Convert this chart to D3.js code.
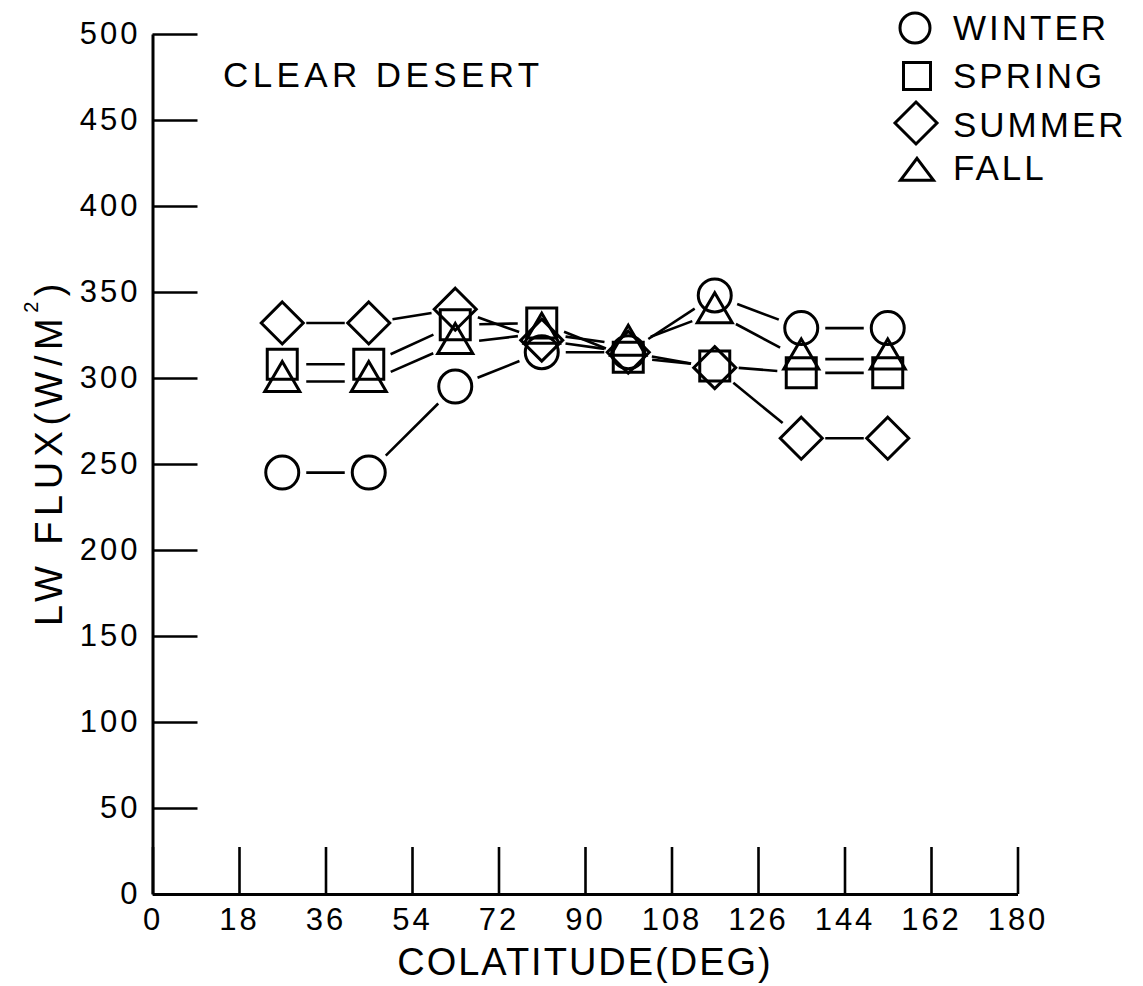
<!DOCTYPE html>
<html>
<head>
<meta charset="utf-8">
<script src="https://cdn.jsdelivr.net/npm/d3@7"></script>
<style>
  html, body { margin: 0; padding: 0; background: #fff; }
  svg { display: block; }
  text { font-family: "Liberation Sans", Arial, sans-serif; fill: #000; }
</style>
</head>
<body>
<svg id="chart" width="1143" height="986"></svg>
<script>
// Clear-desert longwave flux by colatitude band, one series per season
const colatitudes = [27, 45, 63, 81, 99, 117, 135, 153];
const winter = [245, 245, 295, 315, 315, 348, 329, 329];
const spring = [308, 308, 331, 332, 312, 307, 303, 303];
const summer = [332, 332, 340, 322, 315, 306, 265, 265];
const fall   = [298, 298, 320, 326, 319, 338, 311, 311];

const seasonNames = ["WINTER", "SPRING", "SUMMER", "FALL"];
const seasonShapes = ["circle", "square", "diamond", "triangle"];
const seasonValues = [winter, spring, summer, fall];

const xTicks = [0, 18, 36, 54, 72, 90, 108, 126, 144, 162, 180];
const yTicks = [0, 50, 100, 150, 200, 250, 300, 350, 400, 450, 500];

const svg = d3.select("#chart");

const x = d3.scaleLinear().domain([0, 180]).range([152.5, 1017.5]);
const y = d3.scaleLinear().domain([0, 500]).range([894, 34]);

// marker outlines, centred on the data point
function markerPath(shape, s) {
  const p = d3.path();
  if (shape === "circle") {
    p.arc(0, 0, s.r, 0, 2 * Math.PI);
  } else if (shape === "square") {
    p.rect(-s.h, -s.h, 2 * s.h, 2 * s.h);
  } else if (shape === "diamond") {
    p.moveTo(0, -s.d); p.lineTo(s.d, 0); p.lineTo(0, s.d); p.lineTo(-s.d, 0); p.closePath();
  } else {
    p.moveTo(0, -2 * s.th / 3); p.lineTo(s.tw / 2, s.th / 3); p.lineTo(-s.tw / 2, s.th / 3); p.closePath();
  }
  return p.toString();
}
const plotSize = { r: 16.5, h: 15, d: 21, tw: 35, th: 30 };
const legendSize = { r: 15, h: 13.5, d: 21, tw: 33, th: 22 };

// axes
const yAxis = d3.axisLeft(y).tickValues(yTicks).tickSizeInner(-45).tickSizeOuter(0).tickPadding(15);
const xAxis = d3.axisBottom(x).tickValues(xTicks).tickSizeInner(-47).tickSizeOuter(0).tickPadding(14);

const gy = svg.append("g").attr("transform", `translate(${x(0)},0)`).call(yAxis);
const gx = svg.append("g").attr("transform", `translate(0,${y(0)})`).call(xAxis);
[gx, gy].forEach(g => {
  g.selectAll("path.domain").attr("stroke", "#000").attr("stroke-width", 3);
  g.selectAll(".tick line").attr("stroke", "#000").attr("stroke-width", 2.6);
  g.selectAll(".tick text")
    .attr("font-family", "Liberation Sans, Arial, sans-serif")
    .attr("font-size", 31)
    .attr("letter-spacing", 3)
    .attr("fill", "#000");
});
gy.selectAll(".tick text").attr("dx", 3);

// axis titles
svg.append("text")
  .attr("x", 585).attr("y", 975)
  .attr("text-anchor", "middle")
  .attr("font-size", 38)
  .attr("letter-spacing", 2)
  .text("COLATITUDE(DEG)");

const yt = svg.append("text")
  .attr("transform", "translate(62,452) rotate(-90)")
  .attr("text-anchor", "middle")
  .attr("font-size", 38)
  .attr("letter-spacing", 5.5);
yt.append("tspan").text("LW FLUX(W/M");
yt.append("tspan").attr("font-size", 20).attr("dy", -24).text("2");
yt.append("tspan").attr("dy", 24).text(")");

svg.append("text")
  .attr("x", 223).attr("y", 87)
  .attr("font-size", 35)
  .attr("letter-spacing", 4.4)
  .text("CLEAR DESERT");

// connecting segments, stopped short of each marker
const gap = 24;
seasonValues.forEach(vals => {
  for (let i = 0; i < vals.length - 1; i++) {
    const x1 = x(colatitudes[i]), y1 = y(vals[i]);
    const x2 = x(colatitudes[i + 1]), y2 = y(vals[i + 1]);
    const len = Math.hypot(x2 - x1, y2 - y1);
    const ux = (x2 - x1) / len, uy = (y2 - y1) / len;
    svg.append("line")
      .attr("x1", x1 + ux * gap).attr("y1", y1 + uy * gap)
      .attr("x2", x2 - ux * gap).attr("y2", y2 - uy * gap)
      .attr("stroke", "#000").attr("stroke-width", 2.6);
  }
});

// markers
seasonValues.forEach((vals, k) => {
  svg.append("g").selectAll("path")
    .data(vals)
    .join("path")
    .attr("transform", (v, i) => `translate(${x(colatitudes[i])},${y(v)})`)
    .attr("d", markerPath(seasonShapes[k], plotSize))
    .attr("fill", "none")
    .attr("stroke", "#000")
    .attr("stroke-width", 3);
});

// legend
const legendRows = [
  { mx: 915, my: 28, ty: 40 },
  { mx: 917, my: 76, ty: 88 },
  { mx: 916, my: 123, ty: 137 },
  { mx: 917, my: 173, ty: 180 }
];
const lg = svg.append("g");
seasonNames.forEach((name, k) => {
  const r = legendRows[k];
  lg.append("path")
    .attr("transform", `translate(${r.mx},${r.my})`)
    .attr("d", markerPath(seasonShapes[k], legendSize))
    .attr("fill", "none").attr("stroke", "#000").attr("stroke-width", 3);
  lg.append("text")
    .attr("x", 953).attr("y", r.ty)
    .attr("font-size", 35)
    .attr("letter-spacing", 3)
    .text(name);
});
</script>
</body>
</html>
